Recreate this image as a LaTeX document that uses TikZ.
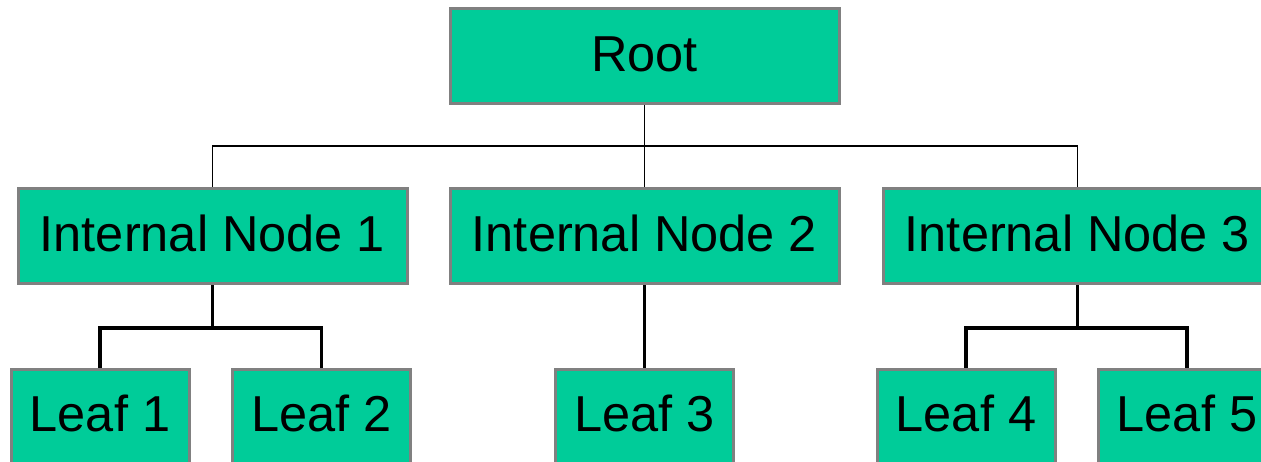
\documentclass[tikz,border=0pt]{standalone}
\usepackage{fontspec}
\setmainfont{Liberation Sans}
\definecolor{boxfill}{HTML}{00CC99}
\definecolor{boxline}{HTML}{808080}
\begin{document}
\begin{tikzpicture}[x=1pt,y=-1pt,
  box/.style={rectangle, fill=boxfill, draw=boxline, line width=3pt, inner sep=0pt,
    minimum height=95pt, text height=37pt, text depth=7pt,
    font=\fontsize{50.5}{58}\selectfont, text=black},
  wide/.style={box, minimum width=389pt},
  leafbox/.style={box, minimum width=178pt},
  thin/.style={draw=black, line width=1.2pt},
  thick/.style={draw=black, line width=3.3pt}]
\useasboundingbox (0,0) rectangle (1261,462);
\node[wide] (root) at (644.5,56.5) {Root};
\node[wide] (i1) at (212.5,236.5) {Internal Node 1};
\node[wide] (i2) at (644.5,236.5) {Internal Node 2};
\node[wide] (i3) at (1077.5,236.5) {Internal Node 3};
\node[leafbox] (l1) at (100,416.5) {Leaf 1};
\node[leafbox] (l2) at (321.5,416.5) {Leaf 2};
\node[leafbox] (l3) at (644.5,416.5) {Leaf 3};
\node[leafbox] (l4) at (966,416.5) {Leaf 4};
\node[leafbox] (l5) at (1187,416.5) {Leaf 5};
\coordinate (bus) at (644.5,146);
\coordinate (b1) at (212.5,328);
\coordinate (b3) at (1077.5,328);
\draw[thin] (root.south) -- (bus);
\draw[thin] (bus) -| (i1.north);
\draw[thin] (bus) -- (i2.north);
\draw[thin] (bus) -| (i3.north);
\draw[thick] (i1.south) -- (b1);
\draw[thick] (b1) -| (l1.north);
\draw[thick] (b1) -| (l2.north);
\draw[thick] (i2.south) -- (l3.north);
\draw[thick] (i3.south) -- (b3);
\draw[thick] (b3) -| (l4.north);
\draw[thick] (b3) -| (l5.north);
\end{tikzpicture}
\end{document}
